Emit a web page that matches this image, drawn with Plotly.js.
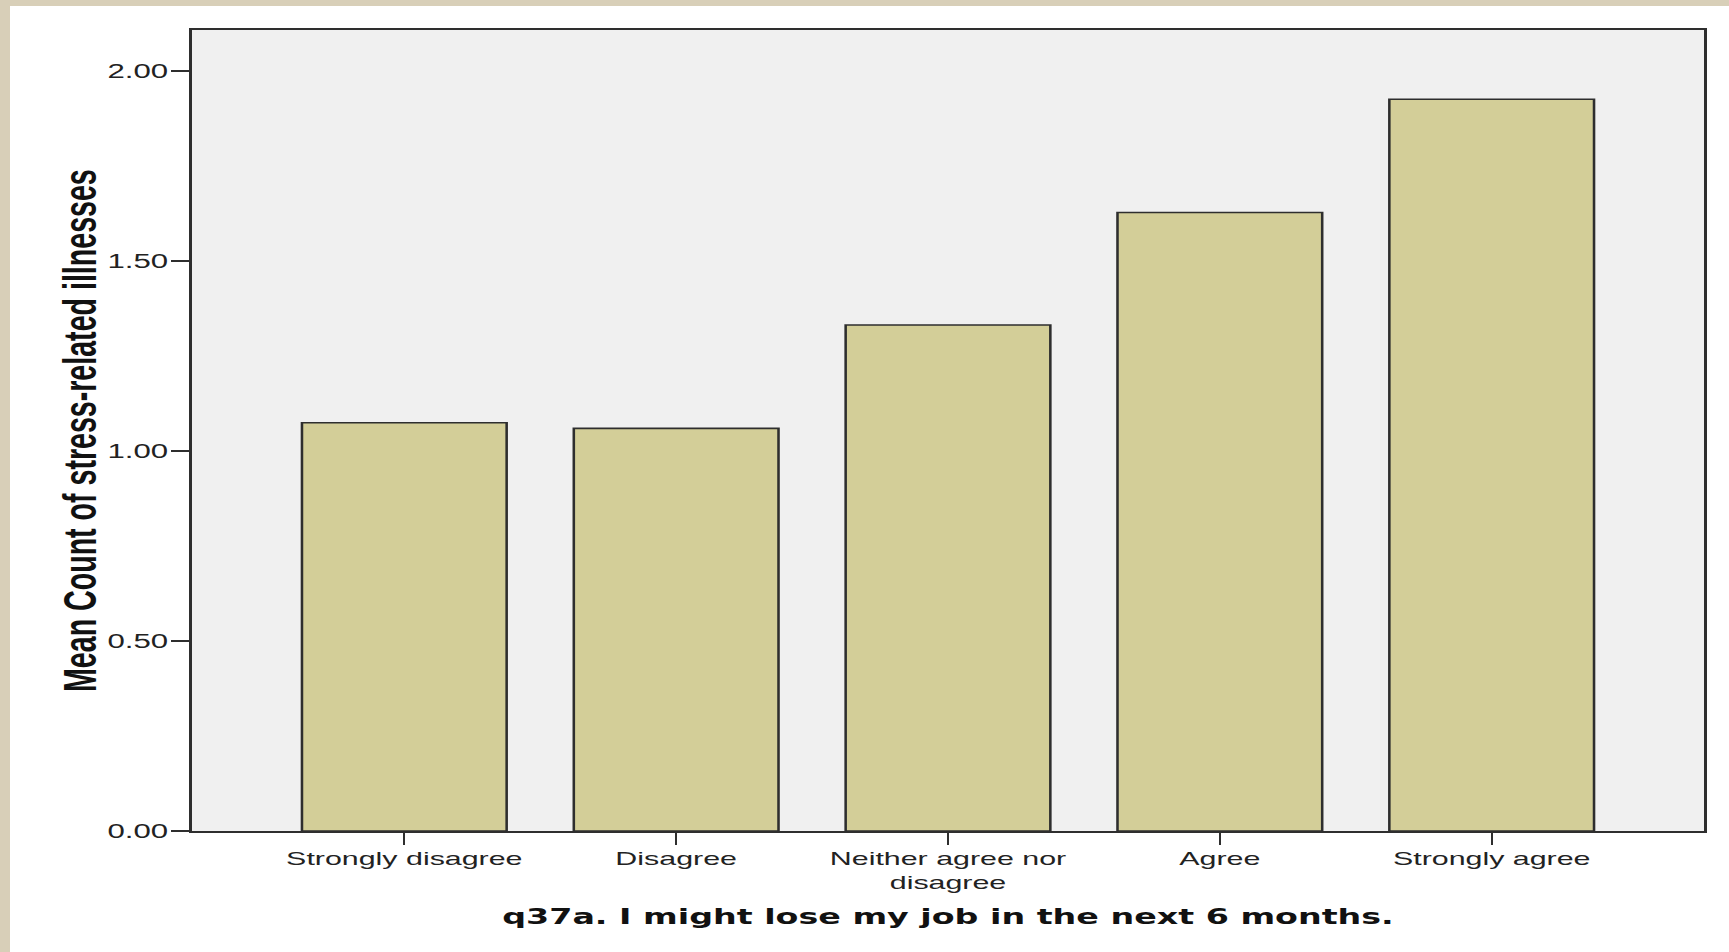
<!DOCTYPE html>
<html>
<head>
<meta charset="utf-8">
<script src="https://cdn.plot.ly/plotly-3.0.1.min.js"></script>
<style>
  html, body { margin: 0; padding: 0; width: 1729px; height: 952px; overflow: hidden; }
  body { background: #d8cfb8; position: relative; }
  #panel { position: absolute; left: 10px; top: 6px; right: 0; bottom: 0; background: #ffffff; }
  #chart { position: absolute; left: 0; top: 0; width: 1081px; height: 952px;
           transform: scaleX(1.6); transform-origin: 0 0; }
</style>
</head>
<body>
<div id="panel"></div>
<div id="chart"></div>
<script>
// Data
const categories = ["Strongly disagree", "Disagree", "Neither agree nor<br>disagree", "Agree", "Strongly agree"];
const meanCounts = [1.074, 1.059, 1.331, 1.627, 1.925];
const yTickValues = [0, 0.5, 1.0, 1.5, 2.0];
const yTickLabels = ["0.00", "0.50", "1.00", "1.50", "2.00"];
const xTitle = "q37a. I might lose my job in the next 6 months.";
const yTitle = "Mean Count of stress-related illnesses";

const trace = {
  type: "bar",
  x: categories,
  y: meanCounts,
  marker: { color: "#d3ce98", line: { color: "#2e2e2e", width: 1.6 } },
  hoverinfo: "skip"
};

const layout = {
  width: 1081,
  height: 952,
  margin: { l: 119.8, r: 15.6, t: 30, b: 120.5 },
  paper_bgcolor: "rgba(0,0,0,0)",
  plot_bgcolor: "#f0f0f0",
  bargap: 0.247,
  showlegend: false,
  font: { family: "Liberation Sans, Arial, sans-serif", color: "#222222" },
  xaxis: {
    type: "category",
    range: [-0.781, 4.781],
    showline: true, mirror: true, linecolor: "#2e2e2e", linewidth: 2,
    ticks: "outside", ticklen: 12, tickwidth: 1.3, tickcolor: "#2e2e2e",
    ticklabelstandoff: -3,
    showgrid: false, zeroline: false,
    tickfont: { family: "Liberation Sans, Arial, sans-serif", size: 19, color: "#222222" },
    title: { text: xTitle, standoff: 17,
             font: { family: "DejaVu Sans, Verdana, sans-serif", size: 20.8, color: "#111111", weight: "bold" } },
    automargin: false
  },
  yaxis: {
    range: [0, 2.107],
    tickvals: yTickValues, ticktext: yTickLabels,
    showline: true, mirror: true, linecolor: "#2e2e2e", linewidth: 2,
    ticks: "outside", ticklen: 11, tickwidth: 2, tickcolor: "#2e2e2e",
    ticklabelstandoff: -2,
    showgrid: false, zeroline: false,
    tickfont: { family: "Liberation Sans, Arial, sans-serif", size: 19.5, color: "#222222" },
    automargin: false
  },
  annotations: [{
    text: yTitle,
    xref: "paper", yref: "paper", x: 0, y: 0.5,
    xanchor: "center", yanchor: "middle",
    xshift: -70.5,
    textangle: -90,
    showarrow: false,
    font: { family: "Liberation Sans, Arial, sans-serif", size: 28.6, color: "#111111", weight: "bold" }
  }]
};

Plotly.newPlot("chart", [trace], layout, { displayModeBar: false, responsive: false, staticPlot: true });
</script>
</body>
</html>
